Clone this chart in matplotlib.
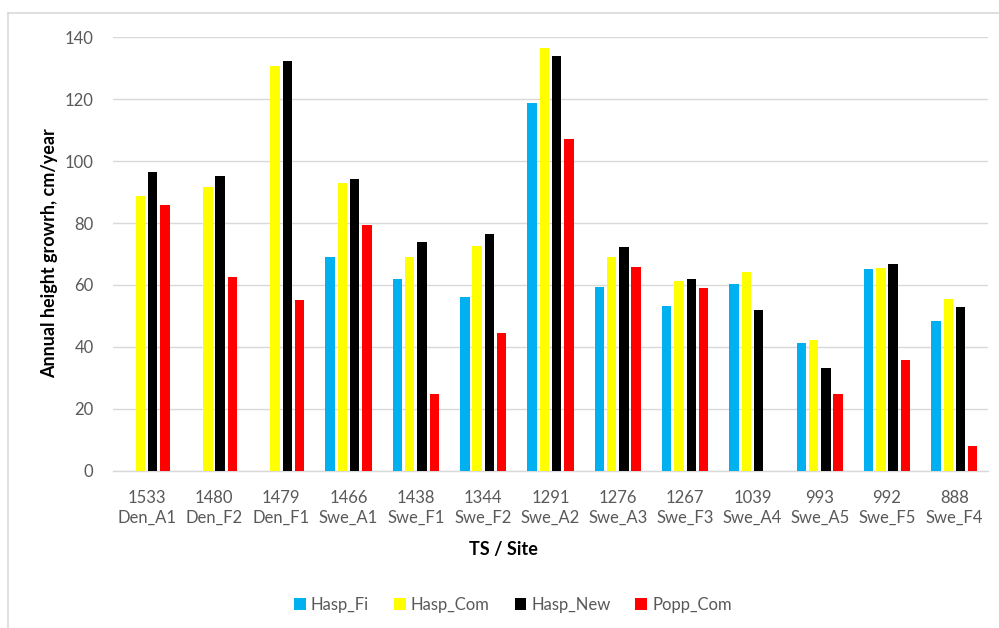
import numpy as np
import matplotlib
matplotlib.use("Agg")
import matplotlib.pyplot as plt
from matplotlib.lines import Line2D
from matplotlib.patches import Patch

# Data: annual height growth (cm/year) per trial site
ts_codes = ["1533", "1480", "1479", "1466", "1438", "1344", "1291",
            "1276", "1267", "1039", "993", "992", "888"]
sites = ["Den_A1", "Den_F2", "Den_F1", "Swe_A1", "Swe_F1", "Swe_F2", "Swe_A2",
         "Swe_A3", "Swe_F3", "Swe_A4", "Swe_A5", "Swe_F5", "Swe_F4"]

hasp_fi = [np.nan, np.nan, np.nan, 69.1, 61.8, 56.1, 118.9,
           59.3, 53.2, 60.2, 41.3, 65.0, 48.4]
hasp_com = [88.7, 91.5, 130.7, 92.8, 69.1, 72.7, 136.4,
            69.1, 61.3, 64.3, 42.2, 65.5, 55.4]
hasp_new = [96.4, 95.2, 132.3, 94.3, 74.0, 76.4, 133.9,
            72.4, 61.8, 51.9, 33.2, 66.7, 52.8]
popp_com = [85.8, 62.6, 55.2, 79.3, 24.7, 44.6, 107.0,
            65.8, 58.9, np.nan, 24.7, 35.8, 8.0]

series_names = ["Hasp_Fi", "Hasp_Com", "Hasp_New", "Popp_Com"]
series_values = [hasp_fi, hasp_com, hasp_new, popp_com]
colors = ["#00B0F0", "#FFFF00", "#000000", "#FF0000"]

font = "Lato"
tick_color = "#595959"

fig = plt.figure(figsize=(9.99, 6.28), dpi=100)
ax = fig.add_axes([113 / 999, 1 - 470.7 / 628, (988 - 113) / 999, (470.7 - 37.3) / 628])

x = np.arange(len(sites))
bar_w = 0.14
pitch = 0.182
offsets = (np.arange(4) - 1.5) * pitch
for vals, off, col, name in zip(series_values, offsets, colors, series_names):
    ax.bar(x + off, vals, width=bar_w, color=col, label=name, zorder=3)

ax.set_xlim(-0.5, len(sites) - 0.5)
ax.set_ylim(0, 140)
ax.set_yticks(np.arange(0, 141, 20))
ax.yaxis.grid(True, color="#D9D9D9", linewidth=1.0, zorder=0)
ax.set_axisbelow(True)
for side in ["top", "right", "left"]:
    ax.spines[side].set_visible(False)
ax.spines["bottom"].set_color("#D9D9D9")
ax.spines["bottom"].set_linewidth(1.0)

ax.set_xticks(x)
ax.set_xticklabels([f"{c}\n{s}" for c, s in zip(ts_codes, sites)],
                   fontfamily=font, fontsize=12, color=tick_color, linespacing=1.3)
ax.tick_params(axis="x", length=0, pad=14)
ax.tick_params(axis="y", length=0, pad=14, labelcolor=tick_color, labelsize=12)
for lbl in ax.get_yticklabels():
    lbl.set_fontfamily(font)

fig.text(50 / 999, 1 - 253 / 628, "Annual height growrh, cm/year", rotation=90,
         ha="center", va="center", fontfamily=font, fontweight="bold",
         fontsize=13, color="#000000")
fig.text(503 / 999, 1 - 550 / 628, "TS / Site", ha="center", va="center",
         fontfamily=font, fontweight="bold", fontsize=13, color="#000000")

handles = [Patch(facecolor=c, edgecolor="none") for c in colors]
leg = fig.legend(handles, series_names, loc="center", bbox_to_anchor=(513 / 999, 1 - 605 / 628),
                 ncol=4, frameon=False, handlelength=0.7, handleheight=0.7,
                 handletextpad=0.3, columnspacing=1.5,
                 prop={"family": font, "size": 12})
for t in leg.get_texts():
    t.set_color(tick_color)

# Light frame around the chart area (left and top edges visible)
fig.add_artist(Line2D([8 / 999, 8 / 999], [0, 1 - 13 / 628], transform=fig.transFigure,
                      color="#D9D9D9", linewidth=1.2))
fig.add_artist(Line2D([8 / 999, 1], [1 - 13 / 628, 1 - 13 / 628], transform=fig.transFigure,
                      color="#D9D9D9", linewidth=1.2))

fig.savefig("out.png", dpi=100, facecolor="white")
